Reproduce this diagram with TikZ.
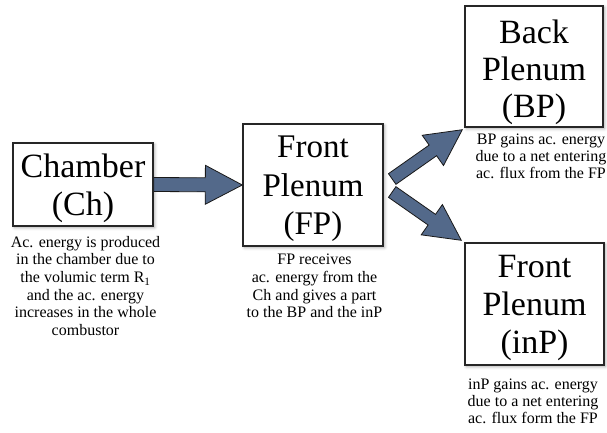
\documentclass[tikz,border=0pt]{standalone}
\usepackage{fontspec}
\setmainfont{Liberation Serif}
\usetikzlibrary{calc,shadows.blur}
\definecolor{arrowblue}{RGB}{83,105,138}
\tikzset{
  box/.style={draw=black!85, line width=1.4pt, fill=white, inner sep=0pt,
    blur shadow={shadow xshift=1.5pt, shadow yshift=-1.5pt, shadow blur radius=3pt, shadow opacity=35}},
  bigtext/.style={align=center, inner sep=0pt, font=\fontsize{34}{38}\selectfont},
  captext/.style={align=center, inner sep=0pt, anchor=north, font=\fontsize{16}{17.6}\selectfont},
  barrow/.style={draw=black!90, line width=0.8pt, fill=arrowblue, line join=miter},
}
\newcommand\blockarrow[5]{%
  \coordinate (hb) at ($(#2)!#5!(#1)$);
  \draw[barrow] ($(#1)!#3!90:(#2)$) -- ($(hb)!#3!90:(#2)$) -- ($(hb)!#4!90:(#2)$) -- (#2)
    -- ($(hb)!#4!-90:(#2)$) -- ($(hb)!#3!-90:(#2)$) -- ($(#1)!#3!-90:(#2)$) -- cycle;}
\begin{document}
\begin{tikzpicture}[x=1pt,y=-1pt]
\useasboundingbox (0,0) rectangle (607,432);
\clip (0,0) rectangle (607,432);
% boxes
\node[box, minimum width=140pt, minimum height=83pt] (ch) at (83,184.5) {};
\node[box, minimum width=140pt, minimum height=122pt] (fp) at (313,185) {};
\node[box, minimum width=138pt, minimum height=121pt] (bp) at (534,66.5) {};
\node[box, minimum width=139pt, minimum height=122pt] (inp) at (534.5,304) {};
% box texts
\node[bigtext] (cht) at (83,188) {Chamber\\(Ch)};
\node[bigtext, font=\fontsize{33}{38.5}\selectfont] (fpt) at (313,189) {Front\\Plenum\\(FP)};
\node[bigtext, font=\fontsize{34}{37}\selectfont] (bpt) at (534,72) {Back\\Plenum\\(BP)};
\node[bigtext] (inpt) at (534.5,308) {Front\\Plenum\\(inP)};
% captions
\node[captext] (chc) at (85.5,236) {Ac. energy is produced\\in the chamber due to\\the volumic term R\textsubscript{1}\\and the ac. energy\\increases in the whole\\combustor};
\node[captext] (fpc) at (314.5,254) {FP receives\\ac. energy from the\\Ch and gives a part\\to the BP and the inP};
\node[captext, font=\fontsize{16}{16.8}\selectfont] (bpc) at (541,134) {BP gains ac. energy\\due to a net entering\\ac. flux from the FP};
\node[captext, font=\fontsize{16}{16.8}\selectfont] (inpc) at (533,379) {inP gains ac. energy\\due to a net entering\\ac. flux form the FP};
% arrow ends
\coordinate (a2s) at ($(fp.east)+(8.5,-6)$);
\coordinate (a2e) at ($(bp.south west)+(-2,2)$);
\coordinate (a3s) at ($(fp.east)+(8.5,7)$);
\coordinate (a3e) at ($(inp.north west)+(-3,-2)$);
% arrows
\blockarrow{ch.east}{fp.west}{7pt}{19.5pt}{37pt}
\blockarrow{a2s}{a2e}{6.5pt}{18.5pt}{36pt}
\blockarrow{a3s}{a3e}{6.5pt}{18.5pt}{36pt}
\end{tikzpicture}
\end{document}
